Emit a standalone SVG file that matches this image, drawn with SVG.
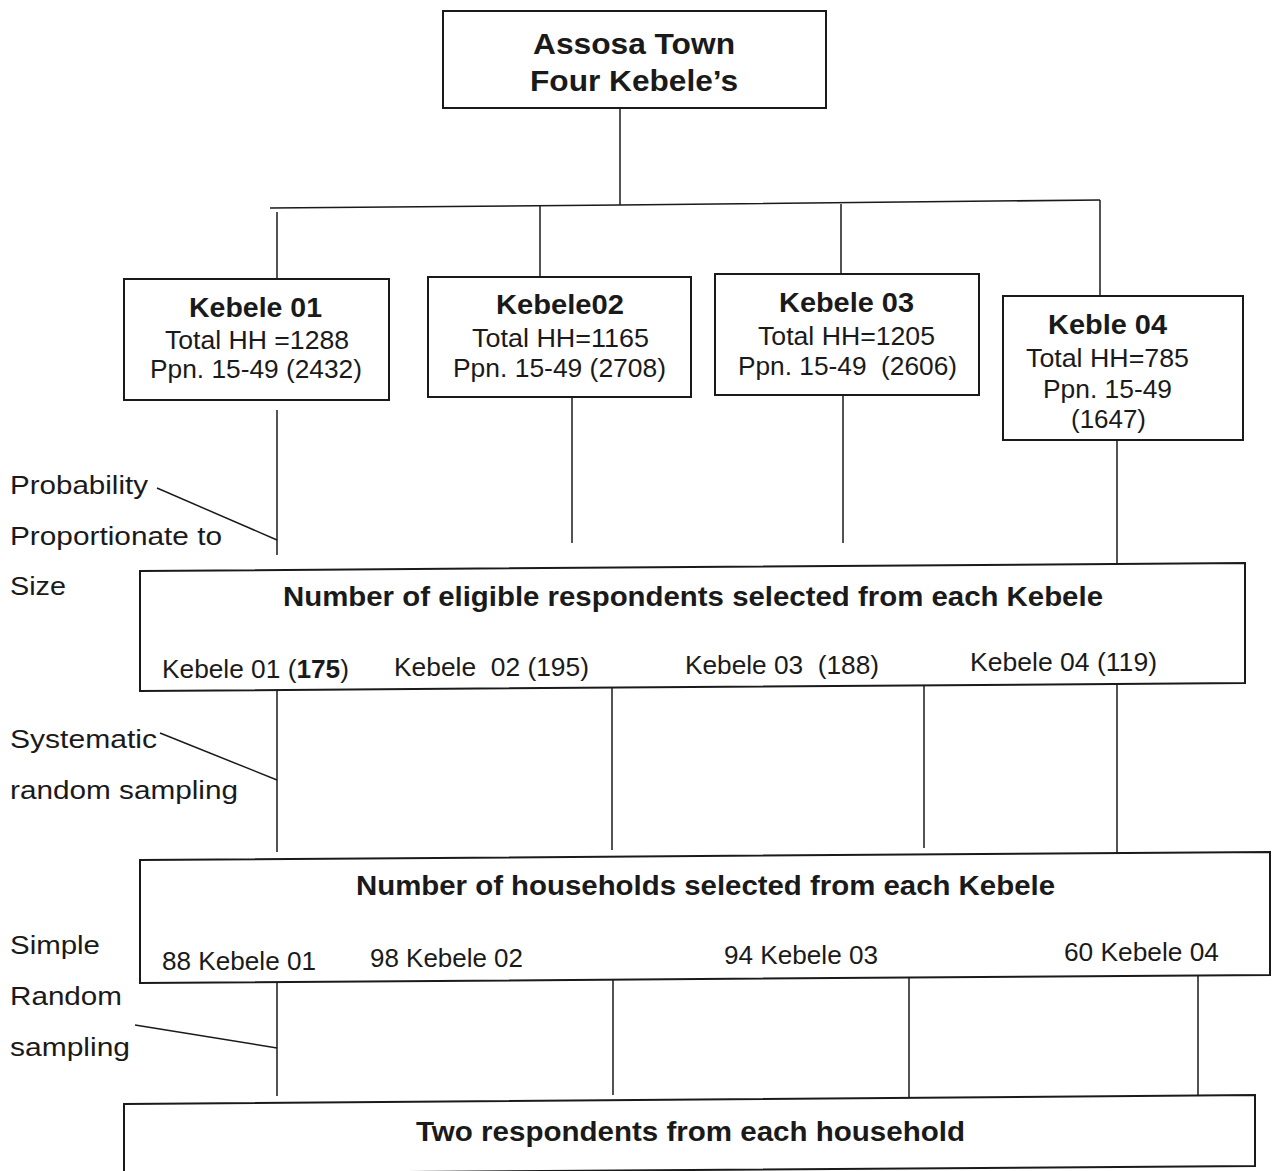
<svg xmlns="http://www.w3.org/2000/svg" width="1274" height="1171" viewBox="0 0 1274 1171">
<style>
.box{fill:#fff;stroke:#1a1a1a;stroke-width:2}
.ln{fill:none;stroke:#1a1a1a;stroke-width:1.5}
text{font-family:"Liberation Sans",Arial,sans-serif;fill:#1a1a1a}
.b{font-weight:bold;font-size:27px}
.r{font-size:25.5px}
.s{font-size:26.5px}
.t{font-weight:bold;font-size:30px}
</style>
<rect width="1274" height="1171" fill="#fff"/>
<g id="connectors">
<polyline class="ln" points="620,108 620,205"/>
<polyline class="ln" points="270,208 620,205 1100,200"/>
<polyline class="ln" points="277,212 277,279"/>
<polyline class="ln" points="540,206 540,277"/>
<polyline class="ln" points="841,204 841,274"/>
<polyline class="ln" points="1100,200 1100,296"/>
<polyline class="ln" points="277,410 277,555"/>
<polyline class="ln" points="572,397 572,543"/>
<polyline class="ln" points="843,395 843,543"/>
<polyline class="ln" points="1117,440 1117,563"/>
<polyline class="ln" points="157,488 277,540"/>
<polyline class="ln" points="277,690 277,852"/>
<polyline class="ln" points="612,686 612,850"/>
<polyline class="ln" points="924,680 924,848"/>
<polyline class="ln" points="1117,684 1117,853"/>
<polyline class="ln" points="160,733 277,780"/>
<polyline class="ln" points="277,978 277,1096"/>
<polyline class="ln" points="613,972 613,1095"/>
<polyline class="ln" points="909,978 909,1097"/>
<polyline class="ln" points="1198,975 1198,1096"/>
<polyline class="ln" points="135,1025 277,1048"/>
</g>
<g id="top">
<rect class="box" x="443" y="11" width="383" height="97"/>
<text class="t" x="533" y="54" textLength="202" lengthAdjust="spacingAndGlyphs">Assosa Town</text>
<text class="t" x="530" y="91" textLength="208" lengthAdjust="spacingAndGlyphs">Four Kebele’s</text>
</g>
<g id="k01">
<rect class="box" x="124" y="279" width="265" height="121"/>
<text class="b" x="189" y="317" textLength="133" lengthAdjust="spacingAndGlyphs">Kebele 01</text>
<text class="r" x="165" y="349" textLength="184" lengthAdjust="spacingAndGlyphs">Total HH =1288</text>
<text class="r" x="150" y="378" textLength="212" lengthAdjust="spacingAndGlyphs">Ppn. 15-49 (2432)</text>
</g>
<g id="k02">
<rect class="box" x="428" y="277" width="263" height="120"/>
<text class="b" x="496" y="314" textLength="128" lengthAdjust="spacingAndGlyphs">Kebele02</text>
<text class="r" x="472" y="347" textLength="177" lengthAdjust="spacingAndGlyphs">Total HH=1165</text>
<text class="r" x="453" y="377" textLength="213" lengthAdjust="spacingAndGlyphs">Ppn. 15-49 (2708)</text>
</g>
<g id="k03">
<rect class="box" x="715" y="274" width="264" height="121"/>
<text class="b" x="779" y="312" textLength="135" lengthAdjust="spacingAndGlyphs">Kebele 03</text>
<text class="r" x="758" y="345" textLength="177" lengthAdjust="spacingAndGlyphs">Total HH=1205</text>
<text class="r" x="738" y="375" textLength="219" lengthAdjust="spacingAndGlyphs" xml:space="preserve">Ppn. 15-49  (2606)</text>
</g>
<g id="k04">
<rect class="box" x="1003" y="296" width="240" height="144"/>
<text class="b" x="1048" y="334" textLength="119" lengthAdjust="spacingAndGlyphs">Keble 04</text>
<text class="r" x="1026" y="367" textLength="163" lengthAdjust="spacingAndGlyphs">Total HH=785</text>
<text class="r" x="1043" y="398" textLength="129" lengthAdjust="spacingAndGlyphs">Ppn. 15-49</text>
<text class="r" x="1071" y="428" textLength="75" lengthAdjust="spacingAndGlyphs">(1647)</text>
</g>
<g id="label-pps">
<text class="s" x="10" y="494" textLength="138" lengthAdjust="spacingAndGlyphs">Probability</text>
<text class="s" x="10" y="545" textLength="212" lengthAdjust="spacingAndGlyphs">Proportionate to</text>
<text class="s" x="10" y="595" textLength="56" lengthAdjust="spacingAndGlyphs">Size</text>
</g>
<g id="eligible">
<polygon class="box" points="140,571 1245,563 1245,683 140,691"/>
<text class="b" x="283" y="606" textLength="820" lengthAdjust="spacingAndGlyphs">Number of eligible respondents selected from each Kebele</text>
<text class="r" x="162" y="678" textLength="187" lengthAdjust="spacingAndGlyphs">Kebele 01 (<tspan font-weight="bold">175</tspan>)</text>
<text class="r" x="394" y="676" textLength="195" lengthAdjust="spacingAndGlyphs" xml:space="preserve">Kebele  02 (195)</text>
<text class="r" x="685" y="674" textLength="194" lengthAdjust="spacingAndGlyphs" xml:space="preserve">Kebele 03  (188)</text>
<text class="r" x="970" y="671" textLength="187" lengthAdjust="spacingAndGlyphs">Kebele 04 (119)</text>
</g>
<g id="label-sys">
<text class="s" x="10" y="748" textLength="147" lengthAdjust="spacingAndGlyphs">Systematic</text>
<text class="s" x="10" y="799" textLength="228" lengthAdjust="spacingAndGlyphs">random sampling</text>
</g>
<g id="households">
<polygon class="box" points="140,860 1270,852 1270,975 140,983"/>
<text class="b" x="356" y="895" textLength="699" lengthAdjust="spacingAndGlyphs">Number of households selected from each Kebele</text>
<text class="r" x="162" y="970" textLength="154" lengthAdjust="spacingAndGlyphs">88 Kebele 01</text>
<text class="r" x="370" y="967" textLength="153" lengthAdjust="spacingAndGlyphs">98 Kebele 02</text>
<text class="r" x="724" y="964" textLength="154" lengthAdjust="spacingAndGlyphs">94 Kebele 03</text>
<text class="r" x="1064" y="961" textLength="155" lengthAdjust="spacingAndGlyphs">60 Kebele 04</text>
</g>
<g id="label-srs">
<text class="s" x="10" y="954" textLength="90" lengthAdjust="spacingAndGlyphs">Simple</text>
<text class="s" x="10" y="1005" textLength="112" lengthAdjust="spacingAndGlyphs">Random</text>
<text class="s" x="10" y="1056" textLength="120" lengthAdjust="spacingAndGlyphs">sampling</text>
</g>
<g id="two">
<polygon class="box" points="124,1104 1255,1095 1255,1166 124,1174"/>
<text class="b" x="416" y="1141" textLength="549" lengthAdjust="spacingAndGlyphs">Two respondents from each household</text>
</g>
</svg>
